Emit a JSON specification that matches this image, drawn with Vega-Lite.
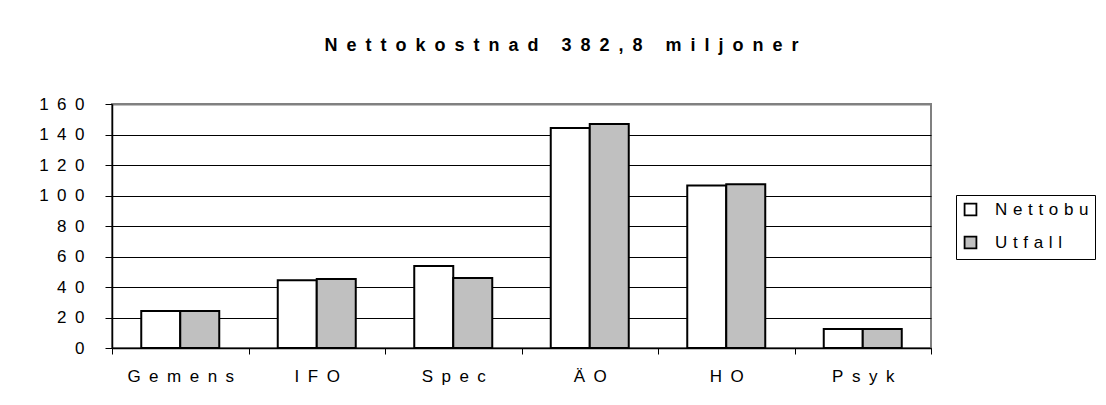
{
  "$schema": "https://vega.github.io/schema/vega-lite/v6.json",
  "width": 819,
  "height": 244,
  "autosize": {"type": "none"},
  "padding": {"left": 112, "top": 104, "right": 175, "bottom": 57},
  "background": "white",
  "title": {
    "text": {"expr": "join(split('Nettokostnad 382,8 miljoner',''), '\u2004\u2006')"},
    "anchor": "middle",
    "dx": 40,
    "offset": 40,
    "font": "Liberation Sans",
    "fontSize": 18,
    "fontWeight": "bold",
    "color": "black"
  },
  "data": {
    "values": [
      {"kategori": "Gemens", "serie": "Nettobu", "varde": 24.3},
      {"kategori": "Gemens", "serie": "Utfall", "varde": 24.3},
      {"kategori": "IFO", "serie": "Nettobu", "varde": 44.4},
      {"kategori": "IFO", "serie": "Utfall", "varde": 45.3},
      {"kategori": "Spec", "serie": "Nettobu", "varde": 53.8},
      {"kategori": "Spec", "serie": "Utfall", "varde": 45.9},
      {"kategori": "ÄO", "serie": "Nettobu", "varde": 144.3},
      {"kategori": "ÄO", "serie": "Utfall", "varde": 146.9},
      {"kategori": "HO", "serie": "Nettobu", "varde": 106.5},
      {"kategori": "HO", "serie": "Utfall", "varde": 107.3},
      {"kategori": "Psyk", "serie": "Nettobu", "varde": 12.5},
      {"kategori": "Psyk", "serie": "Utfall", "varde": 12.5}
    ]
  },
  "mark": {"type": "bar", "stroke": "black", "strokeWidth": 2},
  "encoding": {
    "x": {
      "field": "kategori",
      "type": "nominal",
      "sort": null,
      "scale": {"paddingInner": 0, "paddingOuter": 0},
      "axis": {
        "title": null,
        "labelAngle": 0,
        "labelFont": "Liberation Sans",
        "labelFontSize": 17,
        "labelColor": "black",
        "labelExpr": "join(split(datum.label, ''), '\u2004\u2006')",
        "labelPadding": 14,
        "tickSize": 6,
        "tickColor": "black",
        "tickBand": "extent",
        "domainColor": "black",
        "domainWidth": 1.5,
        "grid": false
      }
    },
    "xOffset": {
      "field": "serie",
      "type": "nominal",
      "scale": {"paddingInner": 0, "paddingOuter": 0.75}
    },
    "y": {
      "field": "varde",
      "type": "quantitative",
      "scale": {"domain": [0, 160], "nice": false},
      "axis": {
        "title": null,
        "values": [0, 20, 40, 60, 80, 100, 120, 140, 160],
        "labelFont": "Liberation Sans",
        "labelFontSize": 17,
        "labelColor": "black",
        "labelExpr": "join(split(datum.label, ''), '\u2004\u2006')",
        "labelPadding": 21,
        "tickSize": 7,
        "tickColor": "black",
        "domainColor": "black",
        "domainWidth": 1.5,
        "grid": true,
        "gridColor": {"condition": {"test": "datum.value == 160", "value": "#808080"}, "value": "black"},
        "gridWidth": {"condition": {"test": "datum.value == 160", "value": 2}, "value": 1},
        "gridOpacity": 1
      }
    },
    "color": {
      "field": "serie",
      "type": "nominal",
      "scale": {"domain": ["Nettobu", "Utfall"], "range": ["white", "#c0c0c0"]},
      "legend": {
        "title": null,
        "orient": "none",
        "legendX": 844,
        "legendY": 91,
        "padding": 6,
        "strokeColor": "black",
        "symbolType": "square",
        "symbolSize": 140,
        "symbolStrokeColor": "black",
        "symbolStrokeWidth": 1.8,
        "labelFont": "Liberation Sans",
        "labelFontSize": 17,
        "labelColor": "black",
        "labelOffset": 16,
        "labelExpr": "join(split(datum.label, ''), '\u2004')",
        "rowPadding": 12,
        "labelLimit": 300
      }
    }
  },
  "config": {
    "view": {"stroke": "#808080", "strokeWidth": 2}
  }
}
